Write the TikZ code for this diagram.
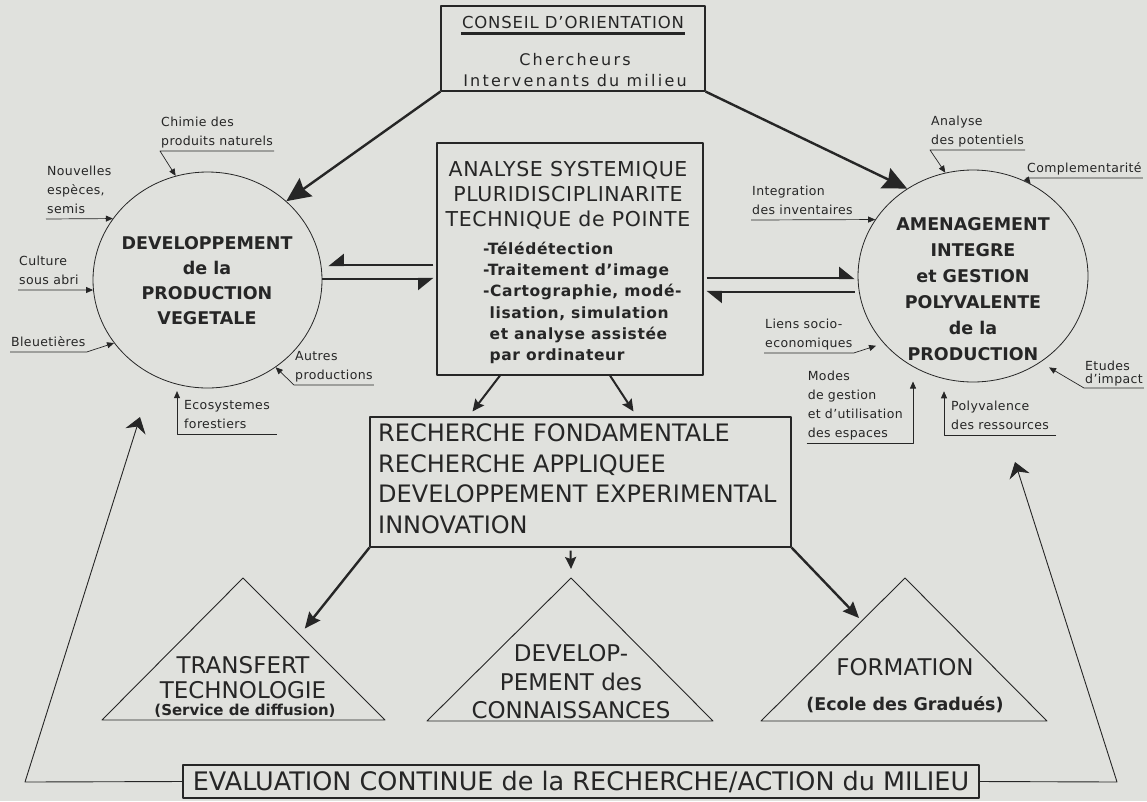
\documentclass[tikz,border=0pt]{standalone}
\usepackage{fontspec}
\setmainfont{DejaVu Sans}
\usetikzlibrary{shapes.geometric,positioning,arrows.meta,calc}
\definecolor{papier}{RGB}{224,225,221}
\definecolor{encre}{RGB}{38,38,38}

\begin{document}
\begin{tikzpicture}[x=1pt,y=-1pt,encre,line join=round,
  cadre/.style={draw=encre,line width=1.1pt,inner sep=0pt},
  rond/.style={draw=encre,line width=0.8pt,ellipse,inner sep=0pt},
  etiq/.style={inner xsep=1pt,inner ysep=0pt,align=left,font=\fontsize{12.5}{19}\selectfont\addfontfeature{LetterSpace=3},execute at end node=\strut},
  etiqV/.style={etiq,inner xsep=7pt},
  renvoi/.style={-{Triangle[length=7pt,width=6pt]},line width=0.7pt},
  grosse/.style={-{Stealth[length=24pt,width=22pt,inset=3pt]},line width=2.4pt},
  forte/.style={-{Stealth[length=16pt,width=14pt,inset=2pt]},line width=2.4pt},
  moyenne/.style={-{Stealth[length=12pt,width=11pt,inset=2pt]},line width=2pt},
  harpD/.style={-{Triangle[harpoon,length=14pt,width=22pt]},line width=2.2pt},
  harpG/.style={-{Triangle[harpoon,swap,length=14pt,width=22pt]},line width=2.2pt},
  retour/.style={-{Stealth[length=15pt,width=21pt,inset=5pt]},line width=0.9pt},
  pyramide/.style={draw=encre,line width=0.9pt},
  titre/.style={font=\fontsize{24}{30.5}\selectfont,align=left,inner sep=2pt}]

\fill[papier] (0,0) rectangle (1147,801);
\useasboundingbox (0,0) rectangle (1147,801);

%% Conseil d'orientation
\node (Conseil) [cadre,minimum width=264,minimum height=85] at (573,48.5) {};
\node (ConseilTitre) [font=\fontsize{16.5}{18}\selectfont\addfontfeature{LetterSpace=5},inner xsep=1pt,inner ysep=5pt] at (573,22) {CONSEIL D'ORIENTATION};
\draw[line width=2.2pt] (ConseilTitre.south west) -- (ConseilTitre.south east);
\node (Membres) [align=center,font=\fontsize{16}{21}\selectfont\addfontfeature{LetterSpace=14}] at (575,70.5)
                {Chercheurs\\Intervenants du milieu};

%% Analyse systemique
\node (Analyse) [cadre,minimum width=266,minimum height=232] at (570,259) {};
\node (AnalyseTitre) [align=center,font=\fontsize{20.5}{25}\selectfont\addfontfeature{LetterSpace=3}] at (568,195)
                {ANALYSE SYSTEMIQUE\\PLURIDISCIPLINARITE\\TECHNIQUE de POINTE};
\node (Outils) [align=left,anchor=west,inner sep=2pt,font=\bfseries\fontsize{15.5}{21.2}\selectfont\addfontfeature{LetterSpace=4}] at (481,303)
                {-Télédétection\\-Traitement d'image\\-Cartographie, modé-\\\phantom{-}lisation, simulation\\\phantom{-}et analyse assistée\\\phantom{-}par ordinateur};

%% Developpement de la production vegetale
\node (Dev) [rond,minimum width=229,minimum height=216] at (207.5,280) {};
\node (DevTexte) [align=center,font=\bfseries\fontsize{17.5}{25}\selectfont] at (207,281)
                {DEVELOPPEMENT\\de la\\PRODUCTION\\VEGETALE};

%% Amenagement integre
\node (Amen) [rond,minimum width=230,minimum height=212] at (973,276) {};
\node (AmenTexte) [align=center,font=\bfseries\fontsize{17.5}{26}\selectfont] at (973,289)
                {AMENAGEMENT\\INTEGRE\\et GESTION\\POLYVALENTE\\de la\\PRODUCTION};

%% Recherche
\node (Recherche) [cadre,minimum width=421,minimum height=130] at (580.5,482) {};
\node (RechercheTexte) [titre,anchor=west] at (376,479)
                {RECHERCHE FONDAMENTALE\\RECHERCHE APPLIQUEE\\DEVELOPPEMENT EXPERIMENTAL\\INNOVATION};

%% Triangles
\coordinate (TransA) at (243,578); \coordinate (TransG) at (102,720); \coordinate (TransD) at (385,720);
\draw[pyramide] (TransA) -- (TransG) -- (TransD) -- cycle;
\node (Transfert) [align=center,font=\fontsize{23}{25}\selectfont] at (243,678) {TRANSFERT\\TECHNOLOGIE};
\node (Diffusion) [font=\bfseries\fontsize{15}{17}\selectfont] at (245,711) {(Service de diffusion)};

\coordinate (ConnA) at (571,578); \coordinate (ConnG) at (427,721); \coordinate (ConnD) at (713,721);
\draw[pyramide] (ConnA) -- (ConnG) -- (ConnD) -- cycle;
\node (Connaissances) [align=center,font=\fontsize{23}{28.5}\selectfont] at (571,682) {DEVELOP-\\PEMENT des\\CONNAISSANCES};

\coordinate (FormA) at (905,578); \coordinate (FormG) at (761,721); \coordinate (FormD) at (1047,721);
\draw[pyramide] (FormA) -- (FormG) -- (FormD) -- cycle;
\node (Formation) [font=\fontsize{23}{25}\selectfont] at (905,667) {FORMATION};
\node (Ecole) [font=\bfseries\fontsize{17.5}{19}\selectfont] at (905,705) {(Ecole des Gradués)};

%% Evaluation
\node (Evaluation) [cadre,minimum width=796,minimum height=33,font=\fontsize{25.5}{28}\selectfont] at (581,781.5)
                {EVALUATION CONTINUE de la RECHERCHE/ACTION du MILIEU};

%% Fleches principales
\draw[grosse] (Conseil.south west) -- (Dev.45);
\draw[grosse] (Conseil.south east) -- (Amen.127);
\draw[harpG] ($(Analyse.west)+(-3,6)$) -- ($(Dev.east)+(6,-15)$);
\draw[harpG] ($(Dev.east)+(0,-1)$) -- ($(Analyse.west)+(-3,20)$);
\draw[harpD] ($(Analyse.east)+(3,19)$) -- ($(Amen.west)+(-3,2)$);
\draw[harpD] ($(Amen.west)+(-3,16)$) -- ($(Analyse.east)+(3,33)$);
\draw[moyenne] ($(Analyse.south)+(-70,0)$) -- ($(Recherche.north)+(-108,-5)$);
\draw[moyenne] ($(Analyse.south)+(40,0)$) -- ($(Recherche.north)+(53,-5)$);
\draw[forte,shorten >=8pt] (Recherche.south west) -- ($(TransA)!0.4!(TransD)$);
\draw[moyenne] ($(Recherche.south)+(-10,3)$) -- ($(ConnA)+(0,-9)$);
\draw[forte,shorten >=4pt] (Recherche.south east) -- ($(FormA)!0.3!(FormG)$);

%% Retour de l'evaluation
\coordinate (CoinG) at (25,782); \coordinate (PointeG) at (140,417);
\draw[retour] (Evaluation.west) -- (CoinG) -- (PointeG);
\coordinate (CoinD) at (1117,782); \coordinate (PointeD) at (1015,462);
\draw[retour] (Evaluation.east) -- (CoinD) -- (PointeD);

%% Etiquettes autour du developpement
\node (Chimie) [etiq,anchor=south west] at (160,151) {Chimie des\\produits naturels};
\draw[renvoi] (Chimie.south east) -- (Chimie.south west) -- (Dev.107);
\node (Nouvelles) [etiq,anchor=south west] at (46,219) {Nouvelles\\espèces,\\semis};
\draw[renvoi] (Nouvelles.south west) -- (Dev.147);
\node (Culture) [etiq,anchor=south west] at (18,290) {Culture\\sous abri};
\draw[renvoi] (Culture.south west) -- (Dev.185);
\node (Bleuetieres) [etiq,anchor=south west] at (10,352) {Bleuetières};
\draw[renvoi] (Bleuetieres.south west) -- (Bleuetieres.south east) -- (Dev.214);
\node (Autres) [etiq,anchor=south west] at (294,385) {Autres\\productions};
\draw[renvoi] (Autres.south east) -- (Autres.south west) -- (Dev.-52);
\node (Ecosystemes) [etiqV,anchor=south west] at (177,434) {Ecosystemes\\forestiers};
\draw[renvoi,shorten >=6pt] (Ecosystemes.south east) -- (Ecosystemes.south west) -- (Ecosystemes.south west |- Dev.-105);

%% Etiquettes autour de l'amenagement
\node (Potentiels) [etiq,anchor=south west] at (930,150) {Analyse\\des potentiels};
\draw[renvoi] (Potentiels.south east) -- (Potentiels.south west) -- (Amen.105);
\node (Complementarite) [etiq,anchor=south west] at (1026,178) {Complementarité};
\draw[renvoi] (Complementarite.south east) -- (Complementarite.south west) -- (Amen.58);
\node (Integration) [etiq,anchor=south west] at (751,220) {Integration\\des inventaires};
\draw[renvoi] (Integration.south west) -- (Amen.150);
\node (Liens) [etiq,anchor=south west] at (764,353) {Liens socio-\\economiques};
\draw[renvoi,shorten >=8pt] (Liens.south west) -- (Liens.south east) -- (Amen.217);
\node (Modes) [etiq,anchor=south east,text width=104pt] at (913,443) {Modes\\de gestion\\et d'utilisation\\des espaces};
\draw[renvoi,shorten >=10pt] (Modes.south west) -- (Modes.south east) -- (Modes.south east |- Amen.-118);
\node (Polyvalence) [etiqV,anchor=south west] at (944,435) {Polyvalence\\des ressources};
\draw[renvoi,shorten >=12pt] (Polyvalence.south east) -- (Polyvalence.south west) -- (Polyvalence.south west |- Amen.-105);
\node (Etudes) [etiq,anchor=south west,font=\fontsize{12.5}{13}\selectfont\addfontfeature{LetterSpace=3}] at (1084,388) {Etudes\\d'impact};
\draw[renvoi,shorten >=10pt] (Etudes.south east) -- (Etudes.south west) -- (Amen.-52);
\end{tikzpicture}
\end{document}
